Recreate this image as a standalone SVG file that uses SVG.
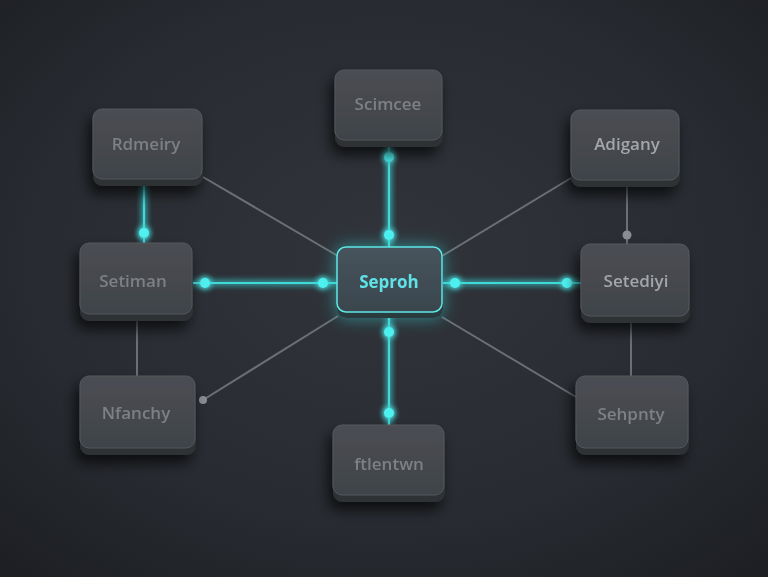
<svg xmlns="http://www.w3.org/2000/svg" width="768" height="577" viewBox="0 0 768 577">
<defs>
<radialGradient id="bg" cx="0.5" cy="0.45" r="0.75">
<stop offset="0" stop-color="#31353b"/>
<stop offset="0.6" stop-color="#282b31"/>
<stop offset="1" stop-color="#1c1e22"/>
</radialGradient>
<linearGradient id="face" x1="0" y1="0" x2="0" y2="1">
<stop offset="0" stop-color="#4b4e53"/>
<stop offset="1" stop-color="#404348"/>
</linearGradient>
<linearGradient id="faceHub" x1="0" y1="0" x2="0" y2="1">
<stop offset="0" stop-color="#47545c"/>
<stop offset="1" stop-color="#3a464e"/>
</linearGradient>
<filter id="shadow" x="-30%" y="-30%" width="160%" height="170%">
<feGaussianBlur in="SourceAlpha" stdDeviation="7"/>
<feOffset dx="-4" dy="8" result="b"/>
<feFlood flood-color="#000" flood-opacity="0.7"/>
<feComposite in2="b" operator="in"/>
<feMerge><feMergeNode/><feMergeNode in="SourceGraphic"/></feMerge>
</filter>
<filter id="glow" x="-50%" y="-50%" width="200%" height="200%">
<feGaussianBlur stdDeviation="3" result="g"/>
<feMerge><feMergeNode in="g"/><feMergeNode in="g"/><feMergeNode in="SourceGraphic"/></feMerge>
</filter>
<filter id="hubglow" x="-40%" y="-40%" width="180%" height="180%">
<feGaussianBlur in="SourceAlpha" stdDeviation="8" result="bl"/>
<feFlood flood-color="#2fd6d6" flood-opacity="0.55"/>
<feComposite in2="bl" operator="in" result="gl"/>
<feMerge><feMergeNode in="gl"/><feMergeNode in="SourceGraphic"/></feMerge>
</filter>
</defs>
<style>
.base{fill:#2e3034}
.face{fill:url(#face);stroke:#55585d;stroke-width:1}
.lbl{font-family:"Open Sans","Liberation Sans",Arial,sans-serif;font-size:17px;font-weight:600;fill:#7d8186;text-anchor:middle;dominant-baseline:central}
.lbl2{fill:#a3a6aa}
.teal{stroke:#3fd9d9;stroke-width:2.2;fill:none}
.gray{stroke:#6c7075;stroke-width:2;fill:none}
.dot{fill:#4ff0f0}
.gdot{fill:#8a8e93}
</style>
<rect width="768" height="577" fill="url(#bg)"/>

<g id="connectors">
<g class="gray">
<line x1="203" y1="177" x2="338" y2="256"/>
<line x1="571" y1="178" x2="442" y2="256"/>
<line x1="203" y1="400" x2="338" y2="316"/>
<line x1="442" y1="317" x2="576" y2="397"/>
<line x1="137" y1="317" x2="137" y2="376"/>
<line x1="631" y1="320" x2="631" y2="376"/>
<line x1="627" y1="183" x2="627" y2="244"/>
</g>
<g filter="url(#glow)">
<g class="teal">
<line x1="389" y1="143" x2="389" y2="247"/>
<line x1="389" y1="315" x2="389" y2="425"/>
<line x1="192" y1="283" x2="337" y2="283"/>
<line x1="442" y1="283" x2="581" y2="283"/>
<line x1="144" y1="182" x2="144" y2="243"/>
</g>
<circle class="dot" cx="389" cy="157" r="5"/>
<circle class="dot" cx="389" cy="235" r="5"/>
<circle class="dot" cx="389" cy="332" r="5"/>
<circle class="dot" cx="389" cy="413" r="5"/>
<circle class="dot" cx="205" cy="283" r="5"/>
<circle class="dot" cx="323" cy="283" r="5"/>
<circle class="dot" cx="455" cy="283" r="5"/>
<circle class="dot" cx="567" cy="283" r="5"/>
<circle class="dot" cx="144" cy="233" r="5"/>
</g>
<circle class="gdot" cx="627" cy="235" r="4.5"/>
<circle class="gdot" cx="203" cy="400" r="4"/>
</g>

<g id="n-rdmeiry" filter="url(#shadow)">
<rect class="base" x="93" y="112" width="110" height="74" rx="9"/>
<rect class="face" x="93" y="109" width="109" height="70" rx="9"/>
<text class="lbl" x="146" y="143">Rdmeiry</text>
</g>
<g id="n-scimcee" filter="url(#shadow)">
<rect class="base" x="335" y="73" width="108" height="74" rx="9"/>
<rect class="face" x="335" y="70" width="107" height="70" rx="9"/>
<text class="lbl" x="388" y="103">Scimcee</text>
</g>
<g id="n-adigany" filter="url(#shadow)">
<rect class="base" x="571" y="113" width="109" height="74" rx="9"/>
<rect class="face" x="571" y="110" width="108" height="70" rx="9"/>
<text class="lbl lbl2" x="627" y="143">Adigany</text>
</g>
<g id="n-setiman" filter="url(#shadow)">
<rect class="base" x="80" y="246" width="113" height="75" rx="9"/>
<rect class="face" x="80" y="243" width="112" height="71" rx="9"/>
<text class="lbl" x="133" y="280">Setiman</text>
</g>
<g id="n-seproh" filter="url(#hubglow)">
<rect x="337" y="250" width="106" height="68" rx="9" fill="#2c3a40"/>
<rect x="337" y="247" width="105" height="65" rx="9" fill="url(#faceHub)" stroke="#5fe6e6" stroke-width="1.5"/>
<text class="lbl" x="389" y="281" style="fill:#5fe3e6;font-weight:700">Seproh</text>
</g>
<g id="n-setediyi" filter="url(#shadow)">
<rect class="base" x="581" y="247" width="109" height="76" rx="9"/>
<rect class="face" x="581" y="244" width="108" height="72" rx="9"/>
<text class="lbl lbl2" x="636" y="280">Setediyi</text>
</g>
<g id="n-nfanchy" filter="url(#shadow)">
<rect class="base" x="80" y="379" width="116" height="76" rx="9"/>
<rect class="face" x="80" y="376" width="115" height="72" rx="9"/>
<text class="lbl" x="136" y="412">Nfanchy</text>
</g>
<g id="n-ftlentwn" filter="url(#shadow)">
<rect class="base" x="333" y="428" width="112" height="74" rx="9"/>
<rect class="face" x="333" y="425" width="111" height="70" rx="9"/>
<text class="lbl" x="389" y="463">ftlentwn</text>
</g>
<g id="n-sehpnty" filter="url(#shadow)">
<rect class="base" x="576" y="379" width="113" height="76" rx="9"/>
<rect class="face" x="576" y="376" width="112" height="72" rx="9"/>
<text class="lbl" x="631" y="413">Sehpnty</text>
</g>
</svg>
